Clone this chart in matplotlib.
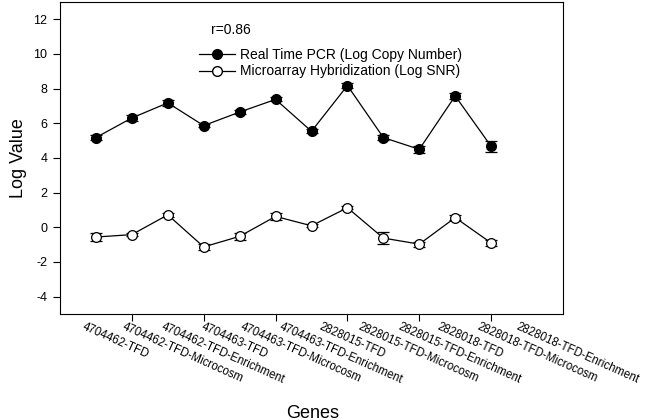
import matplotlib
matplotlib.use("Agg")
import matplotlib.pyplot as plt
from matplotlib.lines import Line2D
import numpy as np

plt.rcParams['font.family'] = ['Liberation Sans', 'DejaVu Sans']

genes = ["4704462-TFD", "4704462-TFD-Microcosm", "4704462-TFD-Enrichment",
         "4704463-TFD", "4704463-TFD-Microcosm", "4704463-TFD-Enrichment",
         "2828015-TFD", "2828015-TFD-Microcosm", "2828015-TFD-Enrichment",
         "2828018-TFD", "2828018-TFD-Microcosm", "2828018-TFD-Enrichment"]
pcr = [5.18, 6.31, 7.18, 5.87, 6.65, 7.38, 5.54, 8.18, 5.18, 4.50, 7.58, 4.67]
pcr_err = [0.12, 0.15, 0.18, 0.10, 0.14, 0.12, 0.12, 0.12, 0.12, 0.22, 0.15, 0.30]
micro = [-0.56, -0.42, 0.72, -1.13, -0.52, 0.63, 0.09, 1.13, -0.62, -0.97, 0.56, -0.90]
micro_err = [0.25, 0.08, 0.12, 0.15, 0.20, 0.22, 0.08, 0.08, 0.33, 0.15, 0.15, 0.18]
yticks = [-4, -2, 0, 2, 4, 6, 8, 10, 12]
labels = ['Real Time PCR (Log Copy Number)', 'Microarray Hybridization (Log SNR)']

x = np.arange(1, len(genes) + 1)

fig = plt.figure(figsize=(6.52, 4.2), dpi=100)
ax = fig.add_axes([60/652, 1-314/420, (563-60)/652, (314-2)/420])

ax.errorbar(x, pcr, yerr=pcr_err, color='black', lw=0.9, marker='o', ms=7,
            mfc='black', mec='black', capsize=4, elinewidth=0.9, capthick=0.9)
ax.errorbar(x, micro, yerr=micro_err, color='black', lw=0.9, marker='o', ms=7,
            mfc='white', mec='black', mew=0.9, capsize=4, elinewidth=0.9, capthick=0.9)

ax.set_xlim(0, 14)
ax.set_ylim(-5, 13)
ax.set_yticks(yticks)
ax.set_yticklabels([str(v) for v in yticks], fontsize=9)
ax.set_xticks([2, 4, 6, 8, 10, 12])
ax.set_xticklabels([])
ax.tick_params(direction='out', length=5, width=0.8, colors='black', pad=4)
for s in ax.spines.values():
    s.set_linewidth(0.8)

# rotated gene labels
trans = ax.get_xaxis_transform()
for i, g in enumerate(genes):
    lx = 0.72 + 1.096 * i
    ax.text(lx, -7/312, g, transform=trans, rotation=-24, rotation_mode='anchor',
            ha='left', va='top', fontsize=8.3, clip_on=False)

ax.set_ylabel('Log Value', fontsize=13, labelpad=5)
fig.text(313/652, 1-413/420, 'Genes', ha='center', va='center', fontsize=13)

ax.text((211-60)/503, 1-(30-2)/312, 'r=0.86', transform=ax.transAxes,
        fontsize=10, va='center', ha='left')

handles = [Line2D([], [], color='black', lw=0.9, marker='o', ms=7, mfc='black', mec='black'),
           Line2D([], [], color='black', lw=0.9, marker='o', ms=7, mfc='white', mec='black')]
leg = ax.legend(handles, labels, loc='upper left',
                bbox_to_anchor=((199-60)/503, 1-(48-2)/312),
                frameon=False, fontsize=10, handlelength=2.6, handletextpad=0.35,
                labelspacing=0.18, borderpad=0, borderaxespad=0)

fig.savefig('out.png', dpi=100)
